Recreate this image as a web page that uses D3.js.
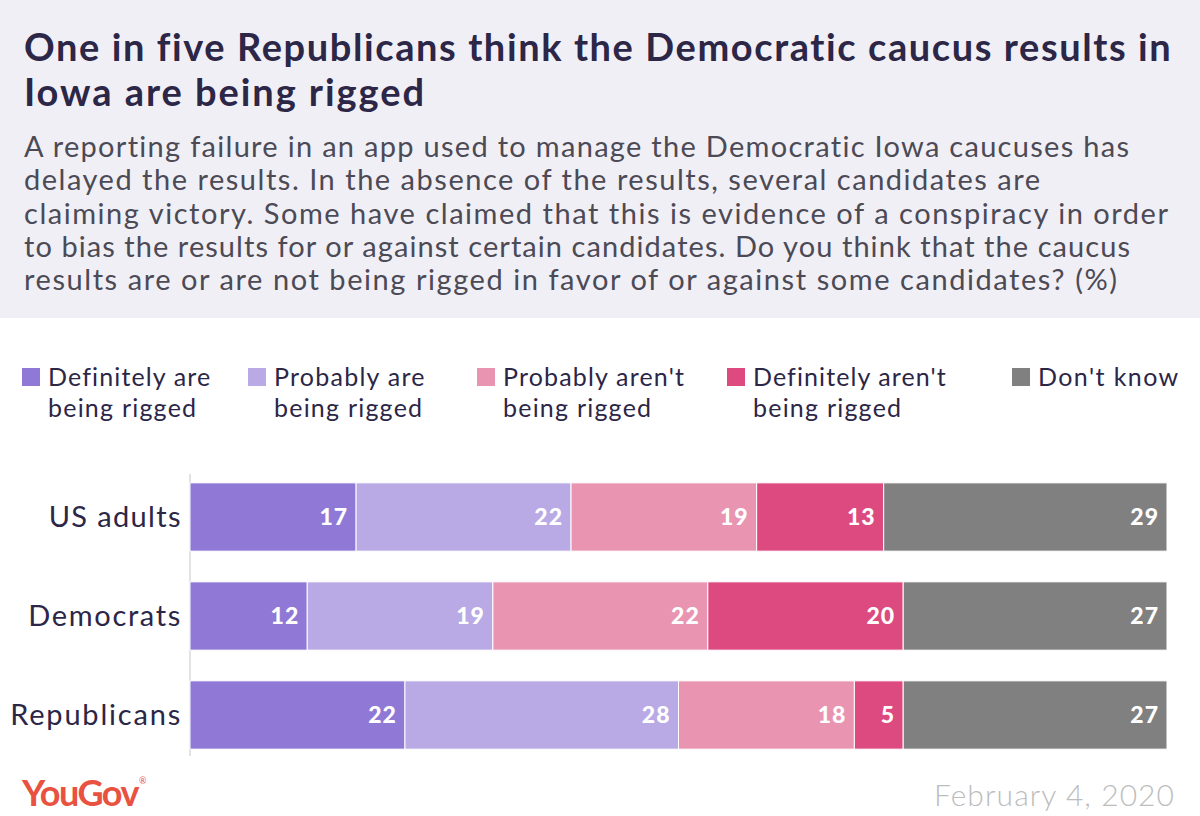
<!DOCTYPE html>
<html>
<head>
<meta charset="utf-8">
<script src="https://cdn.jsdelivr.net/npm/d3@7"></script>
<style>
  body { margin: 0; background: #fff; }
  svg { display: block; font-family: Lato, "Open Sans", sans-serif; }
</style>
</head>
<body>
<div id="chart"></div>
<script>
var groups = ['US adults', 'Democrats', 'Republicans'];
var answers = ['Definitely are being rigged', 'Probably are being rigged',
  "Probably aren't being rigged", "Definitely aren't being rigged", "Don't know"];
var legend_lines = [
  ['Definitely are', 'being rigged'],
  ['Probably are', 'being rigged'],
  ["Probably aren't", 'being rigged'],
  ["Definitely aren't", 'being rigged'],
  ["Don't know"]
];
var definitely_are = [17, 12, 22];
var probably_are = [22, 19, 28];
var probably_arent = [19, 22, 18];
var definitely_arent = [13, 20, 5];
var dont_know = [29, 27, 27];
var colors = ['#8f78d6', '#b9aae5', '#e995b2', '#dd4a80', '#808080'];

var title_lines = ['One in five Republicans think the Democratic caucus results in',
  'Iowa are being rigged'];
var subtitle_lines = [
  'A reporting failure in an app used to manage the Democratic Iowa caucuses has',
  'delayed the results. In the absence of the results, several candidates are',
  'claiming victory. Some have claimed that this is evidence of a conspiracy in order',
  'to bias the results for or against certain candidates. Do you think that the caucus',
  'results are or are not being rigged in favor of or against some candidates? (%)'
];

var chart_width = 1200;
var chart_height = 816;

// widths the lines take in the original layout, used to stretch the text
var title_widths = [1147, 400];
var subtitle_widths = [1106, 1016, 1144, 1106, 1093];
var group_widths = [132, 152, 170];

// spread letters so a text element ends up the given width
function fit(sel, width_of){
  sel.each(function(d, i){
    var w = typeof width_of === 'function' ? width_of(d, i) : width_of;
    var n = this.getNumberOfChars();
    var cur = this.getComputedTextLength();
    if (n > 1) d3.select(this).attr('letter-spacing', (w - cur) / (n - 1));
  });
}

var series = [definitely_are, probably_are, probably_arent, definitely_arent, dont_know];
var rows = groups.map(function(g, i){
  var row = { group: g };
  answers.forEach(function(a, j){ row[a] = series[j][i]; });
  return row;
});
var stacked = d3.stack().keys(answers)(rows);

var svg = d3.select('#chart')
  .append('svg')
  .attr('width', chart_width)
  .attr('height', chart_height);

// header
svg.append('rect')
  .attr('width', chart_width)
  .attr('height', 318)
  .attr('fill', '#f1eff6');

svg.selectAll('.title')
  .data(title_lines)
  .enter()
  .append('text')
  .attr('class', 'title')
  .attr('x', 24)
  .attr('y', function(d, i){ return 61 + i * 45; })
  .attr('font-size', 38)
  .attr('font-weight', 'bold')
  .attr('fill', '#2c2647')
  .text(function(d){ return d; })
  .call(fit, function(d, i){ return title_widths[i]; });

svg.selectAll('.subtitle')
  .data(subtitle_lines)
  .enter()
  .append('text')
  .attr('class', 'subtitle')
  .attr('x', 24)
  .attr('y', function(d, i){ return 157 + i * 33.3; })
  .attr('font-size', 29)
  .attr('fill', '#4b4a55')
  .text(function(d){ return d; })
  .call(fit, function(d, i){ return subtitle_widths[i]; });

// legend
var legend_x = [22, 248, 477, 727, 1012];
var legend = svg.selectAll('.legend')
  .data(legend_lines)
  .enter()
  .append('g')
  .attr('class', 'legend')
  .attr('transform', function(d, i){ return 'translate(' + legend_x[i] + ',368)'; });

legend.append('rect')
  .attr('width', 18)
  .attr('height', 18)
  .attr('fill', function(d, i){ return colors[i]; });

legend.selectAll('text')
  .data(function(d){ return d; })
  .enter()
  .append('text')
  .attr('x', 26)
  .attr('y', function(d, i){ return 18 + i * 31; })
  .attr('font-size', 25)
  .attr('fill', '#2c2647')
  .text(function(d){ return d; })
  .each(function(){
    var cur = this.getComputedTextLength();
    var n = this.getNumberOfChars();
    d3.select(this).attr('letter-spacing', cur * 0.1 / (n - 1));
  });

// bars
var x_scale = d3.scaleLinear()
  .domain([0, 100])
  .range([190, 1167]);

var y_scale = d3.scaleBand()
  .domain(groups)
  .range([468, 764])
  .paddingInner(0.31)
  .paddingOuter(0.15);

svg.append('line')
  .attr('x1', x_scale(0))
  .attr('x2', x_scale(0))
  .attr('y1', 474)
  .attr('y2', 756)
  .attr('stroke', '#d8d8d8')
  .attr('stroke-width', 1.5);

var layer = svg.selectAll('.layer')
  .data(stacked)
  .enter()
  .append('g')
  .attr('class', 'layer')
  .attr('fill', function(d, i){ return colors[i]; });

layer.selectAll('rect')
  .data(function(d){ return d; })
  .enter()
  .append('rect')
  .attr('x', function(d){ return x_scale(d[0]); })
  .attr('y', function(d){ return y_scale(d.data.group); })
  .attr('width', function(d){ return x_scale(d[1]) - x_scale(d[0]); })
  .attr('height', y_scale.bandwidth())
  .attr('stroke', '#fff')
  .attr('stroke-width', 1);

layer.selectAll('text')
  .data(function(d){ return d; })
  .enter()
  .append('text')
  .attr('x', function(d){ return x_scale(d[1]) - 8; })
  .attr('y', function(d){ return y_scale(d.data.group) + y_scale.bandwidth() / 2 + 8; })
  .attr('text-anchor', 'end')
  .attr('font-size', 23)
  .attr('font-weight', 900)
  .attr('letter-spacing', 1)
  .attr('fill', '#fff')
  .text(function(d){ return d[1] - d[0]; });

svg.selectAll('.group')
  .data(groups)
  .enter()
  .append('text')
  .attr('class', 'group')
  .attr('x', 182)
  .attr('y', function(d){ return y_scale(d) + y_scale.bandwidth() / 2 + 10; })
  .attr('text-anchor', 'end')
  .attr('font-size', 29)
  .attr('fill', '#2c2647')
  .text(function(d){ return d; })
  .call(fit, function(d, i){ return group_widths[i]; });

// footer
var logo = svg.append('text')
  .attr('x', 22)
  .attr('y', 806)
  .attr('font-size', 36)
  .attr('font-weight', 'bold')
  .attr('fill', '#e8523f')
  .attr('letter-spacing', -1.5)
  .text('YouGov');
var logo_end = 22 + logo.node().getComputedTextLength();
svg.append('text')
  .attr('x', logo_end + 1)
  .attr('y', 784)
  .attr('font-size', 9)
  .attr('fill', '#e8523f')
  .text('®');

svg.append('text')
  .attr('x', 1175)
  .attr('y', 806)
  .attr('text-anchor', 'end')
  .attr('font-size', 30)
  .attr('font-weight', 300)
  .attr('fill', '#bdbdbd')
  .text('February 4, 2020')
  .call(fit, 240);
</script>
</body>
</html>
